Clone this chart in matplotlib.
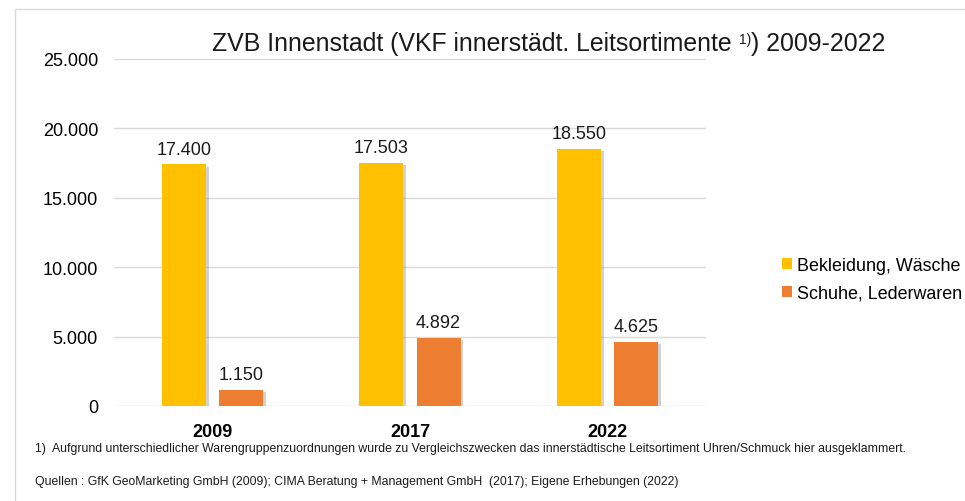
import matplotlib
matplotlib.use("Agg")
import matplotlib.pyplot as plt
import matplotlib.patheffects as pe
from matplotlib.patches import Rectangle
import numpy as np

years = ["2009", "2017", "2022"]
series_names = ["Bekleidung, Wäsche", "Schuhe, Lederwaren"]
bekleidung = [17400, 17503, 18550]
schuhe = [1150, 4892, 4625]
yticks = [0, 5000, 10000, 15000, 20000, 25000]
ytick_labels = ["0", "5.000", "10.000", "15.000", "20.000", "25.000"]
colors = ["#FFC000", "#ED7D31"]

plt.rcParams['font.family'] = ['Liberation Sans', 'DejaVu Sans']

fig = plt.figure(figsize=(9.65, 5.02), dpi=100)
fig.patch.set_facecolor("white")

# outer frame
fig.patches.append(Rectangle((15/965, -0.1), 1.2, 1 - 10/502 + 0.1, transform=fig.transFigure,
                             fill=False, edgecolor="#D9D9D9", linewidth=1.0, zorder=0))

ax = fig.add_axes([114/965, 1 - 407/502, 592/965, 347/502])
x = np.arange(len(years))
w = 0.224
off = 0.145
shadow = [pe.SimplePatchShadow(offset=(2, -1.5), shadow_rgbFace="#808080", alpha=0.35), pe.Normal()]
b1 = ax.bar(x - off, bekleidung, w, color=colors[0], label=series_names[0], zorder=3)
b2 = ax.bar(x + off, schuhe, w, color=colors[1], label=series_names[1], zorder=3)
for b in list(b1) + list(b2):
    b.set_path_effects(shadow)

def fmt(v):
    return f"{v:,}".replace(",", ".")

for bars, vals in ((b1, bekleidung), (b2, schuhe)):
    for rect, v in zip(bars, vals):
        ax.annotate(fmt(v), (rect.get_x() + rect.get_width() / 2, v),
                    xytext=(0, 5), textcoords="offset points",
                    ha="center", va="bottom", fontsize=13, color="#1a1a1a")

ax.set_xlim(-0.5, 2.5)
ax.set_ylim(0, 25000)
ax.set_yticks(yticks)
ax.set_yticklabels(ytick_labels, fontsize=13)
ax.set_xticks(x)
ax.set_xticklabels(years, fontsize=13, fontweight="bold")
ax.tick_params(axis="both", length=0, colors="#000000")
ax.tick_params(axis="y", pad=11.5)
ax.tick_params(axis="x", pad=12.5)
ax.grid(axis="y", color="#D9D9D9", linewidth=1.0, zorder=0)
ax.set_axisbelow(True)
for s in ax.spines.values():
    s.set_visible(False)

# title composed of pieces (small raised superscript)
title_a = "ZVB Innenstadt (VKF innerstädt. Leitsortimente "
title_sup = "1)"
title_b = ") 2009-2022"
renderer = fig.canvas.get_renderer()
tsize = 17.9
t1 = fig.text(212/965, 1 - 51/502, title_a, ha="left", va="baseline", fontsize=tsize, color="#1a1a1a")
ext = t1.get_window_extent(renderer)
t2 = fig.text(ext.x1 / fig.bbox.width, 1 - 44/502, title_sup, ha="left", va="baseline",
              fontsize=10, color="#1a1a1a")
ext2 = t2.get_window_extent(renderer)
t3 = fig.text(ext2.x1 / fig.bbox.width, 1 - 51/502, title_b, ha="left", va="baseline",
              fontsize=tsize, color="#1a1a1a")

leg = fig.legend(handles=[b1, b2], labels=series_names, loc="upper left",
                 bbox_to_anchor=(775/965, 1 - 251/502), frameon=False,
                 fontsize=12.9, handlelength=0.55, handleheight=0.55,
                 handletextpad=0.3, labelspacing=0.6, borderaxespad=0)
for h in leg.legend_handles:
    h.set_path_effects([])

fig.text(35/965, 1 - 449/502,
         "1)  Aufgrund unterschiedlicher Warengruppenzuordnungen wurde zu Vergleichszwecken das innerstädtische Leitsortiment Uhren/Schmuck hier ausgeklammert.",
         ha="left", va="center", fontsize=8.8, color="#1a1a1a")
fig.text(35/965, 1 - 482/502,
         "Quellen : GfK GeoMarketing GmbH (2009); CIMA Beratung + Management GmbH  (2017); Eigene Erhebungen (2022)",
         ha="left", va="center", fontsize=8.8, color="#1a1a1a")

fig.savefig("out.png", dpi=100, facecolor="white")
